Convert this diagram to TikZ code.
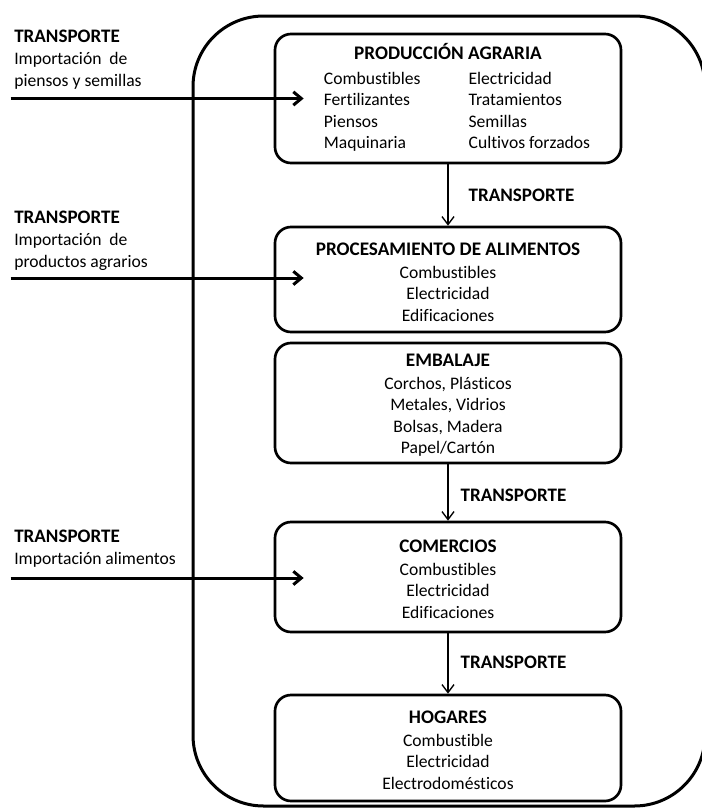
\documentclass[tikz,border=0pt]{standalone}
\usepackage{fontspec}
\setmainfont{Carlito}[Ligatures=NoCommon]
\usetikzlibrary{arrows.meta}
\newcommand\ttlstrut{\rule{0pt}{13pt}}
\begin{document}
\begin{tikzpicture}[x=0.75pt,y=-0.75pt,
  box/.style={draw, line width=2pt, rounded corners=12pt, minimum width=259.5pt,
    align=center, inner sep=0pt, font=\fontsize{13.2}{16}\selectfont},
  outerbox/.style={draw, line width=2.25pt, rounded corners=53pt},
  imparrow/.style={line width=2.25pt, -{Straight Barb[length=6pt,width=10pt]}},
  flowarrow/.style={line width=1pt, -{Straight Barb[length=6pt,width=9pt]}},
  tlbl/.style={font=\fontsize{14.3}{16}\selectfont\bfseries, anchor=west, inner sep=0pt},
  implbl/.style={align=left, anchor=north west, inner sep=0pt, font=\fontsize{13.2}{16.5}\selectfont}
]
\useasboundingbox (0,0) rectangle (702,808);
\draw[outerbox] (193,16) rectangle (705,806);

\node[box, minimum height=96.75pt] (prod) at (448,98.5)
  {\ttlstrut{\bfseries\fontsize{14.4}{16}\selectfont PRODUCCIÓN AGRARIA}\\[3pt]
   \hspace*{13.5pt}\begin{tabular}[t]{@{}l@{\hspace{36pt}}l@{}}
   Combustibles & Electricidad\\
   Fertilizantes & Tratamientos\\
   Piensos & Semillas\\
   Maquinaria & Cultivos forzados
   \end{tabular}};
\node[box, minimum height=78.75pt] (proc) at (448,279.5)
  {\ttlstrut{\bfseries\fontsize{14.4}{16}\selectfont PROCESAMIENTO DE ALIMENTOS}\\[1.5pt]
   Combustibles\\ Electricidad\\ Edificaciones};
\node[box, minimum height=90pt] (emb) at (448,403)
  {\ttlstrut{\bfseries\fontsize{14.4}{16}\selectfont EMBALAJE}\\[1pt]
   Corchos, Plásticos\\ Metales, Vidrios\\ Bolsas, Madera\\ Papel/Cartón};
\node[box, minimum height=82.5pt] (com) at (448,577)
  {\ttlstrut{\bfseries\fontsize{14.4}{16}\selectfont COMERCIOS}\\[1pt]
   Combustibles\\ Electricidad\\ Edificaciones};
\node[box, minimum height=79.5pt] (hog) at (448,748)
  {\ttlstrut{\bfseries\fontsize{14.4}{16}\selectfont HOGARES}\\[1pt]
   Combustible\\ Electricidad\\ Electrodomésticos};

\draw[flowarrow] (prod.south) -- node[tlbl, midway, xshift=15pt] (tr1) {TRANSPORTE} (proc.north);
\draw[flowarrow] (emb.south) -- node[tlbl, midway, xshift=9pt, yshift=-2pt] (tr2) {TRANSPORTE} (com.north);
\draw[flowarrow] (com.south) -- node[tlbl, midway, xshift=9pt, yshift=1pt] (tr3) {TRANSPORTE} (hog.north);

\path (prod.west) ++(-263,0) coordinate (s1);
\path (proc.west) ++(-263,-1.5) coordinate (s2);
\path (com.west) ++(-263,1) coordinate (s3);
\draw[imparrow] (s1) -- ([xshift=22.5pt]s1 -| prod.west);
\draw[imparrow] (s2) -- ([xshift=22.5pt]s2 -| proc.west);
\draw[imparrow] (s3) -- ([xshift=22.5pt]s3 -| com.west);

\node[implbl] (l1) at (14,29.5)
  {{\bfseries\fontsize{14.3}{16.5}\selectfont TRANSPORTE}\\ Importación\ \ de\\ piensos y semillas};
\node[implbl] (l2) at (14,210.5)
  {{\bfseries\fontsize{14.3}{16.5}\selectfont TRANSPORTE}\\ Importación\ \ de\\ productos agrarios};
\node[implbl] (l3) at (14,529.5)
  {{\bfseries\fontsize{14.3}{16.5}\selectfont TRANSPORTE}\\ Importación alimentos};
\end{tikzpicture}
\end{document}
